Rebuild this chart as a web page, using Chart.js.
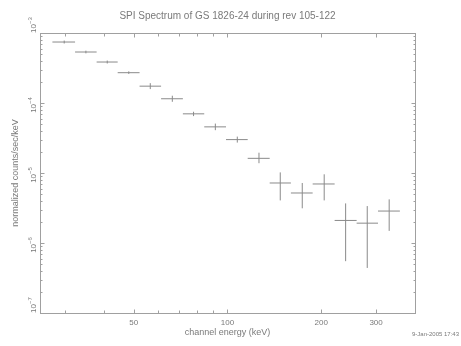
<!DOCTYPE html>
<html>
<head>
<meta charset="utf-8">
<script src="https://cdn.jsdelivr.net/npm/chart.js@4/dist/chart.umd.min.js"></script>
<style>
  html, body { margin: 0; padding: 0; background: #fff; }
  #wrap { width: 461px; height: 346px; }
</style>
</head>
<body>
<div id="wrap"><canvas id="spec" width="461" height="346"></canvas></div>
<script>
const chartTitle = 'SPI Spectrum of GS 1826-24 during rev 105-122';
const xTitle = 'channel energy (keV)';
const yTitle = 'normalized counts/sec/keV';
const stamp = '9-Jan-2005 17:43';

// channel centres and bin edges (keV)
const energy  = [29.9, 35.1, 41.1, 48.2, 56.5, 66.5, 77.8, 91.4, 107.5, 126.2, 147.7, 173.8, 204.4, 239.5, 281.0, 330.5];
const binLow  = [27.4, 32.4, 38.0, 44.4, 52.2, 61.2, 71.9, 84.2, 98.9, 116.1, 136.6, 159.8, 187.7, 220.8, 259.8, 304.3];
const binHigh = [32.4, 38.0, 44.4, 52.2, 61.2, 71.9, 84.2, 98.9, 116.1, 136.6, 159.8, 187.7, 220.8, 259.8, 304.3, 357.7];

// normalized counts/sec/keV with lower / upper error ends
const flux     = [7.43e-4, 5.35e-4, 3.85e-4, 2.71e-4, 1.74e-4, 1.15e-4, 7.0e-5, 4.56e-5, 3.0e-5, 1.62e-5, 7.2e-6, 5.18e-6, 6.97e-6, 2.1e-6, 1.92e-6, 2.86e-6];
const fluxLow  = [7.08e-4, 5.12e-4, 3.67e-4, 2.60e-4, 1.58e-4, 1.04e-4, 6.5e-5, 4.09e-5, 2.72e-5, 1.38e-5, 4.06e-6, 3.13e-6, 4.06e-6, 5.5e-7, 4.4e-7, 1.49e-6];
const fluxHigh = [7.80e-4, 5.59e-4, 4.04e-4, 2.83e-4, 1.92e-4, 1.27e-4, 7.5e-5, 5.08e-5, 3.31e-5, 1.95e-5, 1.02e-5, 7.2e-6, 9.58e-6, 3.68e-6, 3.37e-6, 4.2e-6];

// axes
const xMin = 25, xMax = 400;
const yMin = 1e-7, yMax = 1e-3;
const xLabelVals = [50, 100, 200, 300];
const xLabels = ['50', '100', '200', '300'];
const xMinorVals = [30, 40, 60, 70, 80, 90, 400];
const xMajorVals = [50, 100, 200, 300];
const yMajorVals = [1e-3, 1e-4, 1e-5, 1e-6, 1e-7];
const yExponents = ['\u22123', '\u22124', '\u22125', '\u22126', '\u22127'];

const lineColor = '#8a8a8a';
const axisColor = '#a0a0a0';
const textColor = '#7a7a7a';
const fontFam = '"Liberation Sans", "DejaVu Sans", sans-serif';

// build cross segments, null breaks the line between crosses
const hBars = [];
const vBars = [];
energy.forEach((e, i) => {
  hBars.push({ x: binLow[i], y: flux[i] }, { x: binHigh[i], y: flux[i] }, { x: binHigh[i], y: null });
  vBars.push({ x: e, y: fluxLow[i] }, { x: e, y: fluxHigh[i] }, { x: e, y: null });
});

function yMinorVals() {
  const out = [];
  for (let d = -7; d < -3; d++) {
    for (let m = 2; m <= 9; m++) out.push(m * Math.pow(10, d));
  }
  return out;
}

const frame = {
  id: 'frame',
  afterDraw(chart) {
    const { ctx, chartArea: a, scales: { x, y } } = chart;
    ctx.save();
    ctx.strokeStyle = axisColor;
    ctx.lineWidth = 1;
    const L = Math.round(a.left) + 0.5, R = Math.round(a.right) + 0.5;
    const T = Math.round(a.top) + 0.5, B = Math.round(a.bottom) + 0.5;
    ctx.strokeRect(L, T, R - L, B - T);

    ctx.beginPath();
    const xt = (v, len) => {
      const px = Math.round(x.getPixelForValue(v)) + 0.5;
      ctx.moveTo(px, B); ctx.lineTo(px, B - len);
      ctx.moveTo(px, T); ctx.lineTo(px, T + len);
    };
    xMinorVals.forEach((v) => xt(v, 3));
    xMajorVals.forEach((v) => xt(v, 4));
    const yt = (v, len) => {
      const py = Math.round(y.getPixelForValue(v)) + 0.5;
      ctx.moveTo(L, py); ctx.lineTo(L + len, py);
      ctx.moveTo(R, py); ctx.lineTo(R - len, py);
    };
    yMinorVals().forEach((v) => yt(v, 2));
    yMajorVals.forEach((v) => yt(v, 4));
    ctx.stroke();

    ctx.fillStyle = textColor;
    // title
    ctx.font = `10px ${fontFam}`;
    ctx.textAlign = 'center';
    ctx.textBaseline = 'alphabetic';
    ctx.fillText(chartTitle, (a.left + a.right) / 2, 19, 219);

    // x tick labels
    ctx.font = `8px ${fontFam}`;
    xLabelVals.forEach((v, i) => {
      ctx.fillText(xLabels[i], x.getPixelForValue(v), 324.5);
    });

    // x title
    ctx.font = `9px ${fontFam}`;
    ctx.fillText(xTitle, (a.left + a.right) / 2, 335, 92);

    // y title
    ctx.save();
    ctx.translate(18, (a.top + a.bottom) / 2);
    ctx.rotate(-Math.PI / 2);
    ctx.fillText(yTitle, 0, 0, 118);
    ctx.restore();

    // y tick labels 10^n, rotated
    yMajorVals.forEach((v, i) => {
      const py = y.getPixelForValue(v);
      ctx.save();
      ctx.font = `8px ${fontFam}`;
      const wBase = ctx.measureText('10').width;
      ctx.font = `6px ${fontFam}`;
      const wExp = ctx.measureText(yExponents[i]).width;
      const total = wBase + wExp;
      const last = i === 0 || i === yMajorVals.length - 1;
      const start = last ? py : py + total / 2 + 2;
      ctx.translate(35.5, start);
      ctx.rotate(-Math.PI / 2);
      ctx.textAlign = 'left';
      ctx.font = `8px ${fontFam}`;
      ctx.fillText('10', 0, 0);
      ctx.font = `6px ${fontFam}`;
      ctx.fillText(yExponents[i], wBase, -4);
      ctx.restore();
    });

    // date stamp
    ctx.font = `6px ${fontFam}`;
    ctx.textAlign = 'left';
    ctx.fillText(stamp, 412, 336);
    ctx.restore();
  }
};

new Chart(document.getElementById('spec'), {
  type: 'scatter',
  data: {
    datasets: [
      { data: hBars, showLine: true, borderColor: lineColor, borderWidth: 1, pointRadius: 0, spanGaps: false },
      { data: vBars, showLine: true, borderColor: lineColor, borderWidth: 1, pointRadius: 0, spanGaps: false },
    ],
  },
  options: {
    responsive: false,
    animation: false,
    devicePixelRatio: 1,
    layout: { padding: { left: 40, right: 46, top: 33, bottom: 33 } },
    plugins: { legend: { display: false }, tooltip: { enabled: false }, title: { display: false } },
    scales: {
      x: { type: 'logarithmic', min: xMin, max: xMax, display: false },
      y: { type: 'logarithmic', min: yMin, max: yMax, display: false },
    },
  },
  plugins: [frame],
});
</script>
</body>
</html>
